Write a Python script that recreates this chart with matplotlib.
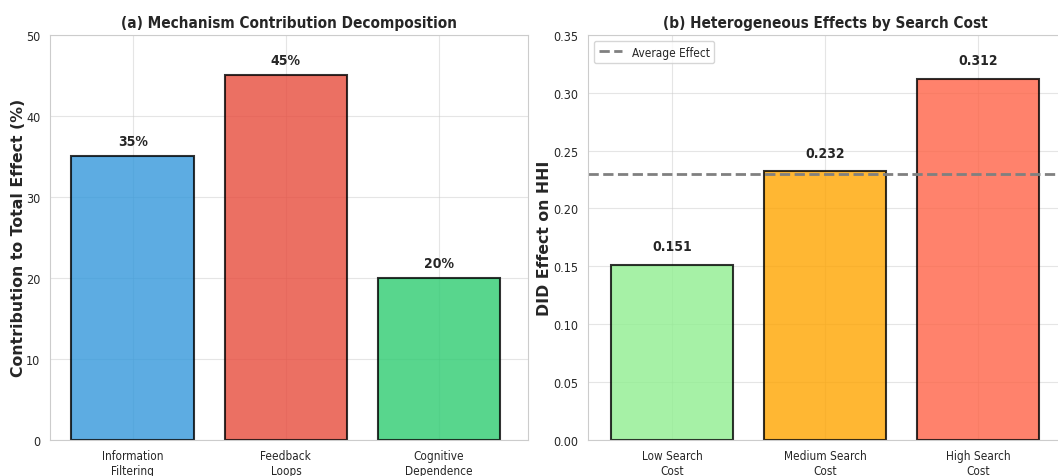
import numpy as np
import matplotlib
matplotlib.use('Agg')
import matplotlib.pyplot as plt
import seaborn as sns

sns.set_style('whitegrid')
plt.rcParams['font.family'] = ['DejaVu Sans']
plt.rcParams['font.stretch'] = 'condensed'

# (a) mechanism decomposition
mechanisms = ['Information\nFiltering', 'Feedback\nLoops', 'Cognitive\nDependence']
contrib = [35, 45, 20]
mech_colors = ['#3498db', '#e74c3c', '#2ecc71']

# (b) heterogeneous effects
cost_groups = ['Low Search\nCost', 'Medium Search\nCost', 'High Search\nCost']
did_effect = [0.151, 0.232, 0.312]
cost_colors = ['lightgreen', 'orange', 'tomato']
avg_effect = 0.23

W, H = 1058, 477
fig = plt.figure(figsize=(W / 100, H / 100), dpi=100)
ax1 = fig.add_axes([50 / W, 1 - 440.5 / H, 478 / W, 404.5 / H])
ax2 = fig.add_axes([588 / W, 1 - 440.5 / H, 474 / W, 404.5 / H])

x = np.arange(len(mechanisms))
ax1.bar(x, contrib, color=mech_colors, alpha=0.8, edgecolor='black', linewidth=1.5)
for xi, v in zip(x, contrib):
    ax1.text(xi, v + 1, f'{v}%', ha='center', va='bottom', fontsize=10, fontweight='bold')
ax1.set_xticks(x)
ax1.set_xticklabels(mechanisms, fontsize=8.5)
ax1.set_xlim(-0.54, 2.58)
ax1.set_ylim(0, 50)
ax1.set_ylabel('Contribution to Total Effect (%)', fontsize=11.3, fontweight='bold',
               fontstretch='normal')
ax1.yaxis.set_label_coords(-24 / 478, 0.5)
ax1.set_title('(a) Mechanism Contribution Decomposition', fontsize=11, fontweight='bold')

x2 = np.arange(len(cost_groups))
ax2.bar(x2, did_effect, color=cost_colors, alpha=0.8, edgecolor='black', linewidth=1.5)
for xi, v in zip(x2, did_effect):
    ax2.text(xi, v + 0.01, f'{v:.3f}', ha='center', va='bottom', fontsize=10, fontweight='bold')
ax2.axhline(avg_effect, color='gray', linestyle='--', linewidth=2, label='Average Effect')
ax2.set_xticks(x2)
ax2.set_xticklabels(cost_groups, fontsize=8.5)
ax2.set_xlim(-0.55, 2.55)
ax2.set_ylim(0, 0.35)
ax2.set_ylabel('DID Effect on HHI', fontsize=11.3, fontweight='bold', fontstretch='normal')
ax2.yaxis.set_label_coords(-36 / 474, 0.5)
ax2.set_title('(b) Heterogeneous Effects by Search Cost', fontsize=11, fontweight='bold')
ax2.legend(loc='upper left', fontsize=8.5)

for ax in (ax1, ax2):
    ax.tick_params(axis='y', labelsize=9)
    ax.grid(True, alpha=0.5)

fig.savefig('out.png', dpi=100)
